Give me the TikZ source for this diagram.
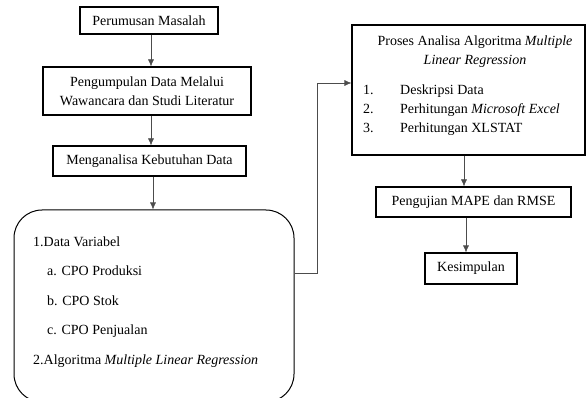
\documentclass[tikz,border=0pt]{standalone}
\usepackage{fontspec}
\setmainfont{Liberation Serif}
\usetikzlibrary{arrows.meta,calc}
\begin{document}
\begin{tikzpicture}[x=1pt,y=-1pt,
  font=\fontsize{14}{19}\selectfont,
  box/.style={draw=black,line width=1.1pt,rectangle,inner sep=0pt,align=center},
  conn/.style={draw=black!70,line width=0.6pt,-{Latex[length=7pt,width=6pt]}},
  txt/.style={inner sep=0pt,anchor=base west}]
\useasboundingbox (0,0) rectangle (586,398);
\node[box,minimum width=138pt,minimum height=27pt] (b1) at (149,20.5) {Perumusan Masalah};
\node[box,minimum width=208pt,minimum height=48pt] (b2) at (147,91) {Pengumpulan Data Melalui\\Wawancara dan Studi Literatur};
\node[box,minimum width=193pt,minimum height=30pt] (b3) at (149.5,161) {Menganalisa Kebutuhan Data};
\node[draw=black,line width=1pt,rounded corners=28pt,minimum width=280pt,minimum height=192pt,inner sep=0pt] (rb) at (154,306) {};
\node[txt] (r1) at (33,246) {1.Data Variabel};
\node[txt] (r2) at (47,275) {a. CPO Produksi};
\node[txt] (r3) at (47,305) {b. CPO Stok};
\node[txt] (r4) at (47,334) {c. CPO Penjualan};
\node[txt] (r5) at (33,364) {2.Algoritma \textit{Multiple Linear Regression}};
\node[box,minimum width=233pt,minimum height=130pt] (bb) at (468.5,90) {};
\node[inner sep=0pt,align=center] (t1) at (475,51.5) {Proses Analisa Algoritma \textit{Multiple}\\\textit{Linear Regression}};
\node[txt] (n1) at (363,95) {1.};
\node[txt] (n2) at (363,114) {2.};
\node[txt] (n3) at (363,133) {3.};
\node[txt] (l1) at (400,95) {Deskripsi Data};
\node[txt] (l2) at (400,114) {Perhitungan \textit{Microsoft Excel}};
\node[txt] (l3) at (400,133) {Perhitungan XLSTAT};
\node[box,minimum width=195pt,minimum height=30pt] (m) at (473.5,202) {Pengujian MAPE dan RMSE};
\node[box,minimum width=92pt,minimum height=31pt] (k) at (471,268.5) {Kesimpulan};
\coordinate (c1) at (151,0);
\coordinate (c2) at (153,0);
\coordinate (c3) at (464,0);
\coordinate (c4) at (466,0);
\coordinate (ra) at (rb.east |- 0,273);
\coordinate (j1) at (317,273);
\coordinate (j2) at (317,83);
\draw[conn] (c1 |- b1.south) -- (c1 |- b2.north);
\draw[conn] (c1 |- b2.south) -- (c1 |- b3.north);
\draw[conn] (c2 |- b3.south) -- (c2 |- rb.north);
\draw[conn] (ra) -- (j1) -- (j2) -- (bb.west |- j2);
\draw[conn] (c3 |- bb.south) -- (c3 |- m.north);
\draw[conn] (c4 |- m.south) -- (c4 |- k.north);
\end{tikzpicture}
\end{document}
